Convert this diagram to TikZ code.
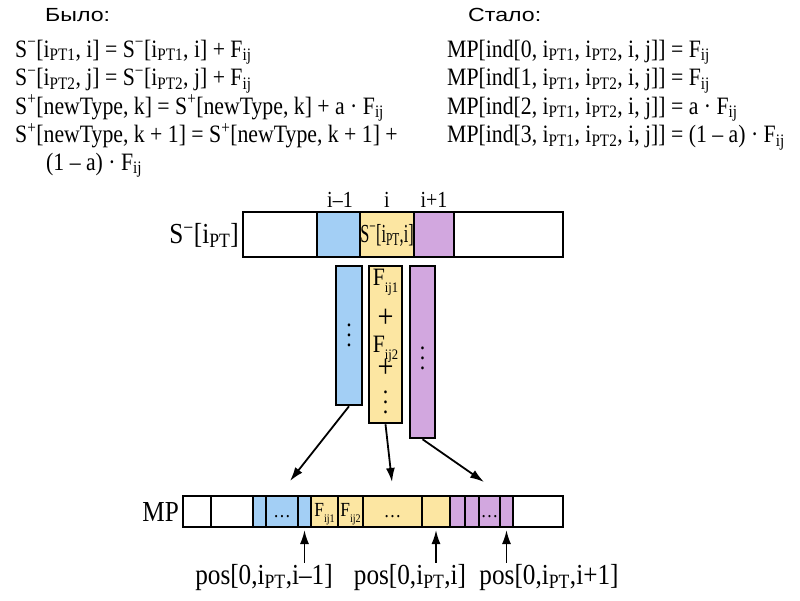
\documentclass[tikz,border=0pt]{standalone}
\usepackage{fontspec}
\setmainfont[FakeStretch=0.87]{Liberation Serif}
\newfontfamily\hdrfont[FakeStretch=1.22]{Liberation Sans}
\usetikzlibrary{arrows.meta}
\definecolor{cellblue}{RGB}{163,207,245}
\definecolor{cellyellow}{RGB}{252,230,162}
\definecolor{cellpurple}{RGB}{210,167,223}
\newcommand{\sub}[1]{\textsubscript{#1}}
\newcommand{\sps}[1]{\textsuperscript{#1}}
\newcommand{\Fij}[1]{F\raisebox{-.3em}{\scalebox{.58}{ij#1}}}
\newcommand{\bigplus}{\scalebox{1.3}{+}}
\newcommand{\coldots}{\vbox{\baselineskip=10pt\hbox{.}\hbox{.}\hbox{.}}}
\newcommand{\mpdots}{\raisebox{-4pt}{…}}

\begin{document}
\begin{tikzpicture}[x=1pt,y=-1pt,
  eq/.style={anchor=base west,inner sep=0pt,font=\fontsize{25}{25}\selectfont},
  hdr/.style={anchor=base west,inner sep=0pt,font=\hdrfont\fontsize{19}{19}\selectfont},
  lbl/.style={inner sep=1pt,font=\fontsize{29}{29}\selectfont},
  idx/.style={inner sep=1pt,anchor=base,font=\fontsize{23}{23}\selectfont},
  cell/.style={draw,line width=1.8pt,inner sep=0pt,outer sep=0pt,minimum height=31pt,
    text height=6pt,text depth=3pt,font=\fontsize{20}{20}\selectfont},
  column/.style={draw,line width=2.5pt,inner sep=0pt,align=center,font=\fontsize{25}{25}\selectfont},
  arr/.style={line width=1.8pt,-{Latex[length=14pt,width=9pt]}}]
  \useasboundingbox (0,0) rectangle (800,600);
  % what it was
  \node[hdr] (hwas) at (45,21) {Было:};
  \node[eq] (wasA) at (15,57) {S\sps{−}[i\sub{PT1}, i] = S\sps{−}[i\sub{PT1}, i] + F\sub{ij}};
  \node[eq] (wasB) at (15,85.5) {S\sps{−}[i\sub{PT2}, j] = S\sps{−}[i\sub{PT2}, j] + F\sub{ij}};
  \node[eq] (wasC) at (15,114) {S\sps{+}[newType, k] = S\sps{+}[newType, k] + a · F\sub{ij}};
  \node[eq] (wasD) at (15,142.5) {S\sps{+}[newType, k + 1] = S\sps{+}[newType, k + 1] +};
  \node[eq] (wasE) at (46,170) {(1 – a) · F\sub{ij}};
  % what it became
  \node[hdr] (hnow) at (468,21) {Стало:};
  \node[eq] (nowA) at (447,57) {MP[ind[0, i\sub{PT1}, i\sub{PT2}, i, j]] = F\sub{ij}};
  \node[eq] (nowB) at (447,85.5) {MP[ind[1, i\sub{PT1}, i\sub{PT2}, i, j]] = F\sub{ij}};
  \node[eq] (nowC) at (447,114) {MP[ind[2, i\sub{PT1}, i\sub{PT2}, i, j]] = a · F\sub{ij}};
  \node[eq] (nowD) at (447,142.5) {MP[ind[3, i\sub{PT1}, i\sub{PT2}, i, j]] = (1 – a) · F\sub{ij}};

  % S^- array
  \node[cell,minimum height=45pt,minimum width=74pt] (s1) at (280,234.5) {};
  \node[cell,fill=cellblue,minimum height=45pt,minimum width=43pt] (s2) at (338.5,234.5) {};
  \node[cell,fill=cellyellow,minimum height=45pt,minimum width=54pt,
    font=\fontsize{26}{26}\selectfont] (s3) at (387,234.5)
    {\raisebox{-6pt}{\scalebox{.72}[1]{S\sps{−}[i\sub{PT},i]}}};
  \node[cell,fill=cellpurple,minimum height=45pt,minimum width=40pt] (s4) at (434,234.5) {};
  \node[cell,minimum height=45pt,minimum width=109pt] (s5) at (508.5,234.5) {};
  \draw[line width=2.5pt] (s1.north west) rectangle (s5.south east);
  \node[lbl,anchor=east] (slbl) at ([xshift=-3pt,yshift=-1pt]s1.west) {S\sps{−}[i\sub{PT}]};
  \node[idx] (iprev) at ([xshift=1.5pt,yshift=5pt]s2.north) {i–1};
  \node[idx] (icur) at ([yshift=5pt]s3.north) {i};
  \node[idx] (inext) at ([yshift=5pt]s4.north) {i+1};

  % columns
  \node[column,fill=cellblue,minimum width=26pt,minimum height=139pt] (cA) at (349,335.5) {\coldots};
  \node[column,fill=cellyellow,minimum width=33pt,minimum height=157pt] (cB) at (385.5,344.5)
    {\Fij{1}\\[12pt]\bigplus\\\Fij{2}\\[-4.4pt]\bigplus\\[10.5pt]\coldots\rule[-7pt]{0pt}{7pt}};
  \node[column,fill=cellpurple,minimum width=25pt,minimum height=172pt,
    text height=35pt,text depth=0pt] (cC) at (422.5,352) {\coldots};

  % MP array
  \foreach \l/\r/\c/\t [count=\n] in {183/211/white/{}, 211/253/white/{}, 253/266/cellblue/{},
      266/298/cellblue/\mpdots, 298/311/cellblue/{}, 311/338/cellyellow/\raisebox{-3pt}{\Fij{1}},
      338/363/cellyellow/\raisebox{-3pt}{\Fij{2}}, 363/422/cellyellow/\mpdots, 422/450/cellyellow/{},
      450/465/cellpurple/{}, 465/479/cellpurple/{}, 479/500/cellpurple/\mpdots,
      500/513/cellpurple/{}, 513/563/white/{}}
    \node[cell,fill=\c,minimum width={(\r-\l)*1pt}] (m\n) at ({(\l+\r)/2},511.5) {\t};
  \draw[line width=2.5pt] (m1.north west) rectangle (m14.south east);
  \node[lbl,anchor=east] (mplbl) at ([xshift=-3pt]m1.west) {MP};

  % flows into MP
  \coordinate (tA) at (290,481);
  \coordinate (tB) at (392,482);
  \coordinate (tC) at (484,482);
  \draw[arr] (cA.south) -- (tA);
  \draw[arr] (cB.south) -- (tB);
  \draw[arr] (cC.south) -- (tC);

  % positions
  \node[lbl,anchor=base] (pA) at (264,584) {pos[0,i\sub{PT},i–1]};
  \node[lbl,anchor=base] (pB) at (410,584) {pos[0,i\sub{PT},i]};
  \node[lbl,anchor=base] (pC) at (549,584) {pos[0,i\sub{PT},i+1]};
  \draw[arr] (pA.north -| m5.south) -- ([yshift=-3pt]m5.south);
  \draw[arr] (pB.north -| m9.south) -- ([yshift=-3pt]m9.south);
  \draw[arr] (pC.north -| m13.south) -- ([yshift=-3pt]m13.south);
\end{tikzpicture}
\end{document}
